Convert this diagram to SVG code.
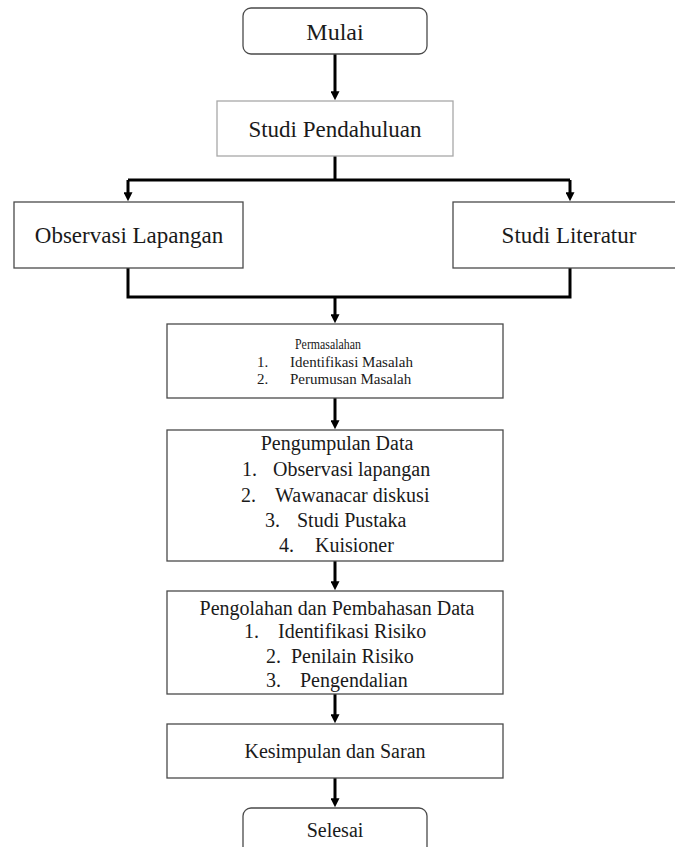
<svg xmlns="http://www.w3.org/2000/svg" width="675" height="847" viewBox="0 0 675 847">
<style>
  .box { fill: #ffffff; stroke: #4a4a4a; stroke-width: 1.3; }
  .light { stroke: #a8a8a8; }
  .t { font-family: "Liberation Serif", "Times New Roman", serif; fill: #1a1a1a; }
  .mid { text-anchor: middle; }
  .conn { fill: none; stroke: #000000; stroke-width: 3; stroke-linejoin: miter; stroke-linecap: butt; }
</style>
<defs>
  <marker id="arr" viewBox="0 0 10 10" refX="2" refY="5" markerWidth="10" markerHeight="9" markerUnits="userSpaceOnUse" orient="auto">
    <path d="M0,0 L10,5 L0,10 z" fill="#000000"/>
  </marker>
</defs>
<rect width="675" height="847" fill="#ffffff"/>

<g id="connectors">
  <path class="conn" d="M335 54 V93" marker-end="url(#arr)"/>
  <path class="conn" d="M335 156 V180"/>
  <path class="conn" d="M128 180 H570"/>
  <path class="conn" d="M128 180 V194" marker-end="url(#arr)"/>
  <path class="conn" d="M570 180 V194" marker-end="url(#arr)"/>
  <path class="conn" d="M128 268 V297 H570 V268"/>
  <path class="conn" d="M335 297 V316" marker-end="url(#arr)"/>
  <path class="conn" d="M335 398 V422" marker-end="url(#arr)"/>
  <path class="conn" d="M335 561 V583" marker-end="url(#arr)"/>
  <path class="conn" d="M335 694 V716" marker-end="url(#arr)"/>
  <path class="conn" d="M335 778 V800" marker-end="url(#arr)"/>
</g>

<g id="mulai">
  <rect class="box" x="243" y="8" width="184" height="46" rx="8"/>
  <text class="t mid" x="335" y="40" font-size="24">Mulai</text>
</g>

<g id="studi-pendahuluan">
  <rect class="box light" x="217" y="101" width="236" height="55"/>
  <text class="t mid" x="335" y="137" font-size="23">Studi Pendahuluan</text>
</g>

<g id="observasi-lapangan">
  <rect class="box" x="14" y="202" width="229" height="66"/>
  <text class="t mid" x="129" y="243" font-size="23">Observasi Lapangan</text>
</g>

<g id="studi-literatur">
  <rect class="box" x="453" y="202" width="240" height="66"/>
  <text class="t mid" x="569" y="243" font-size="23">Studi Literatur</text>
</g>

<g id="permasalahan">
  <rect class="box" x="167" y="324" width="336" height="74"/>
  <text class="t mid" x="328" y="349" font-size="15" textLength="66" lengthAdjust="spacingAndGlyphs">Permasalahan</text>
  <text class="t" x="257" y="367" font-size="15">1.</text>
  <text class="t" x="290" y="367" font-size="15">Identifikasi Masalah</text>
  <text class="t" x="257" y="384" font-size="15">2.</text>
  <text class="t" x="290" y="384" font-size="15">Perumusan Masalah</text>
</g>

<g id="pengumpulan-data">
  <rect class="box" x="167" y="430" width="336" height="131"/>
  <text class="t mid" x="337" y="450" font-size="20">Pengumpulan Data</text>
  <text class="t" x="242" y="476" font-size="20">1.</text>
  <text class="t" x="273" y="476" font-size="20">Observasi lapangan</text>
  <text class="t" x="241" y="502" font-size="20">2.</text>
  <text class="t" x="275" y="502" font-size="20">Wawanacar diskusi</text>
  <text class="t" x="265" y="527" font-size="20">3.</text>
  <text class="t" x="297" y="527" font-size="20">Studi Pustaka</text>
  <text class="t" x="279" y="552" font-size="20">4.</text>
  <text class="t" x="315" y="552" font-size="20">Kuisioner</text>
</g>

<g id="pengolahan-data">
  <rect class="box" x="167" y="591" width="336" height="103"/>
  <text class="t mid" x="337" y="615" font-size="20">Pengolahan dan Pembahasan Data</text>
  <text class="t" x="244" y="638" font-size="20">1.</text>
  <text class="t" x="278" y="638" font-size="20">Identifikasi Risiko</text>
  <text class="t" x="266" y="663" font-size="20">2.</text>
  <text class="t" x="291" y="663" font-size="20">Penilain Risiko</text>
  <text class="t" x="266" y="687" font-size="20">3.</text>
  <text class="t" x="300" y="687" font-size="20">Pengendalian</text>
</g>

<g id="kesimpulan">
  <rect class="box" x="167" y="724" width="336" height="54"/>
  <text class="t mid" x="335" y="758" font-size="20">Kesimpulan dan Saran</text>
</g>

<g id="selesai">
  <rect class="box" x="243" y="808" width="184" height="60" rx="8"/>
  <text class="t mid" x="335" y="837" font-size="20">Selesai</text>
</g>
</svg>
